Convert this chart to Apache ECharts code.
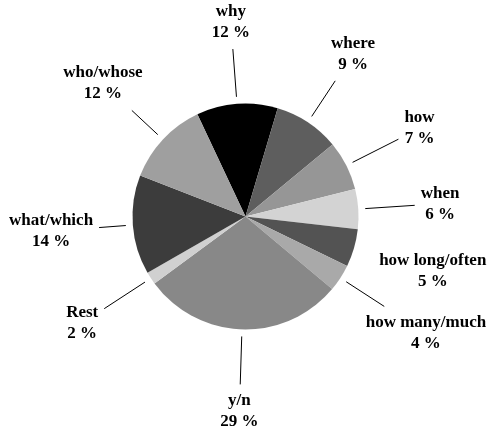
<!DOCTYPE html>
<html>
<head>
<meta charset="utf-8">
<script src="https://cdn.jsdelivr.net/npm/echarts@6/dist/echarts.min.js"></script>
<style>
html,body{margin:0;padding:0;background:#fff;}
#chart{width:487px;height:432px;}
</style>
</head>
<body>
<div id="chart"></div>
<script>
const categories = ['why', 'where', 'how', 'when', 'how long/often', 'how many/much', 'y/n', 'Rest', 'what/which', 'who/whose'];
const values = [11.6, 9.4, 7.1, 5.7, 5.4, 3.9, 28.8, 1.8, 14.2, 12.1];
const colors = ['#000000', '#5e5e5e', '#969696', '#d3d3d3', '#535353', '#a9a9a9', '#888888', '#d0d0d0', '#3c3c3c', '#9f9f9f'];

const CX = 245.5, CY = 216.5, RADIUS = 113, START = 115.2;
const total = values.reduce((a, b) => a + b, 0);
const midAngles = [];
let cum = 0;
values.forEach(v => {
  midAngles.push((90 - START) + 360 * (cum + v / 2) / total);
  cum += v;
});

const chart = echarts.init(document.getElementById('chart'));
chart.setOption({
  animation: false,
  backgroundColor: '#ffffff',
  series: [{
    type: 'pie',
    center: [CX, CY],
    radius: RADIUS,
    startAngle: START,
    clockwise: true,
    avoidLabelOverlap: false,
    percentPrecision: 0,
    silent: true,
    itemStyle: { borderWidth: 0 },
    label: {
      show: true,
      position: 'outside',
      formatter: '{b}\n{d} %',
      fontFamily: 'Liberation Serif',
      fontWeight: 'bold',
      fontSize: 17,
      lineHeight: 21,
      color: '#000'
    },
    labelLine: {
      show: true,
      length: 20,
      length2: 0,
      lineStyle: { color: '#000', width: 1 }
    },
    labelLayout: function (p) {
      const i = p.dataIndex;
      const th = midAngles[i] * Math.PI / 180;
      const dx = Math.sin(th), dy = -Math.cos(th);
      const R = categories[i] === 'how many/much' ? 215 : 195;
      const lx = CX + R * dx, ly = CY + R * dy;
      const g = 6;
      const hw = p.labelRect.width / 2 + g, hh = p.labelRect.height / 2 + g;
      let tx = -Infinity, ty = -Infinity;
      if (Math.abs(dx) > 1e-6) {
        const a = (lx - hw - CX) / dx, b = (lx + hw - CX) / dx;
        tx = Math.min(a, b);
      }
      if (Math.abs(dy) > 1e-6) {
        const a = (ly - hh - CY) / dy, b = (ly + hh - CY) / dy;
        ty = Math.min(a, b);
      }
      const te = Math.max(tx, ty);
      const ts = RADIUS + 7;
      const s = [CX + ts * dx, CY + ts * dy];
      const e = [CX + te * dx, CY + te * dy];
      return {
        x: lx, y: ly,
        align: 'center', verticalAlign: 'middle',
        labelLinePoints: [s, e, e]
      };
    },
    data: categories.map((c, i) => {
      const d = { name: c, value: values[i], itemStyle: { color: colors[i] } };
      if (c === 'how long/often') d.labelLine = { show: false };
      return d;
    })
  }]
});
</script>
</body>
</html>
